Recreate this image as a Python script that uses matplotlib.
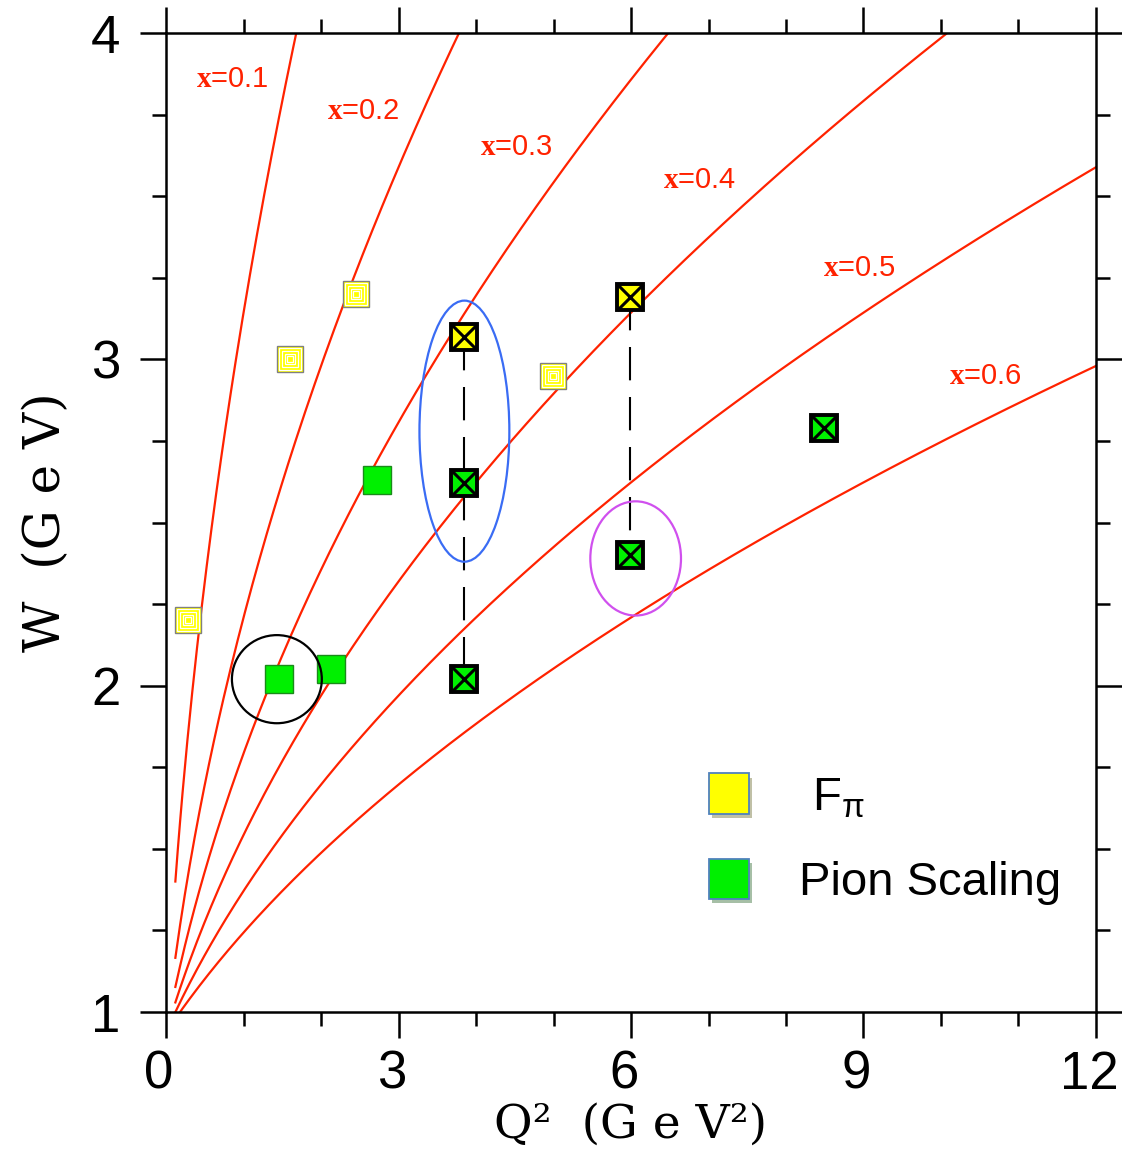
import numpy as np
import matplotlib
matplotlib.use("Agg")
import matplotlib.pyplot as plt
import matplotlib.patheffects as pe
import matplotlib.transforms as mtransforms
from matplotlib.patches import Ellipse
from matplotlib.lines import Line2D
from matplotlib.ticker import MultipleLocator

# W vs Q^2 coverage with lines of constant Bjorken x

plt.rcParams['mathtext.fontset'] = 'custom'
plt.rcParams['mathtext.rm'] = 'Liberation Sans'
plt.rcParams['mathtext.bf'] = 'Liberation Serif:bold'

M_P = 0.938  # proton mass (GeV)

x_bj = [0.1, 0.2, 0.3, 0.4, 0.5, 0.6]
x_lab_q2 = [0.85, 2.55, 4.52, 6.88, 8.95, 10.57]
x_lab_w = [3.86, 3.76, 3.65, 3.55, 3.28, 2.95]

# existing / planned points
fpi_q2 = [0.28, 1.60, 2.45, 4.99]
fpi_w = [2.20, 3.00, 3.20, 2.95]
fpi_new_q2 = [3.85, 5.99]
fpi_new_w = [3.07, 3.19]
scal_q2 = [1.46, 2.13, 2.72]
scal_w = [2.02, 2.05, 2.63]
scal_new_q2 = [3.85, 3.85, 5.99, 8.49]
scal_new_w = [2.62, 2.02, 2.40, 2.79]

# vertical links between the x-scan points
link_q2 = [3.85, 5.99]
link_w_top = [3.07, 3.19]
link_w_bot = [2.02, 2.40]

# highlight rings: (Q2, W, width, height, colour)
rings = [(1.43, 2.02, 1.16, 0.27, 'black'),
         (3.85, 2.78, 1.16, 0.80, '#3a6cf4'),
         (6.06, 2.39, 1.17, 0.35, '#d050ee')]

RED = '#ff2200'
YEL = '#ffff00'
GRN = '#00f000'

fig = plt.figure(figsize=(11.22, 11.59), dpi=100)
ax = fig.add_axes([0.148, 0.1268, 0.8288, 0.8447])

q2 = np.linspace(0.12, 12.5, 400)
for xb, lq, lw_ in zip(x_bj, x_lab_q2, x_lab_w):
    w = np.sqrt(M_P**2 + q2 * (1.0 / xb - 1.0))
    ax.plot(q2, w, color=RED, lw=1.6, zorder=2)
    ax.text(lq, lw_, r'$\mathbf{x}$=%.1f' % xb, color=RED, fontsize=21,
            family='Liberation Sans', ha='center', va='center')

for q, wt, wb in zip(link_q2, link_w_top, link_w_bot):
    ax.plot([q, q], [wt, wb], color='black', lw=1.5, ls=(0, (16, 8)), zorder=3)

for cq, cw, ew, eh, col in rings:
    ax.add_patch(Ellipse((cq, cw), ew, eh, fill=False, edgecolor=col, lw=1.6,
                         zorder=5))

# Fpi points: yellow squares with concentric white lines
ax.plot(fpi_q2, fpi_w, 's', ms=19, mfc=YEL, mec='#808080', mew=1.0,
        ls='none', zorder=4)
for f in (0.8, 0.6, 0.4, 0.2):
    ax.plot(fpi_q2, fpi_w, 's', ms=19 * f, mfc='none', mec='white', mew=0.9,
            ls='none', zorder=4)

ax.plot(scal_q2, scal_w, 's', ms=20, mfc=GRN, mec='#1a8a1a', mew=1.0,
        ls='none', zorder=4)

for xs, ys, fc in ((fpi_new_q2, fpi_new_w, YEL), (scal_new_q2, scal_new_w, GRN)):
    ax.plot(xs, ys, 's', ms=19, mfc=fc, mec='black', mew=2.8, ls='none', zorder=6)
    ax.plot(xs, ys, 'x', ms=19, mec='black', mew=2.2, ls='none', zorder=6)

ax.set_xlim(0, 12)
ax.set_ylim(1, 4)
ax.xaxis.set_major_locator(MultipleLocator(3))
ax.xaxis.set_minor_locator(MultipleLocator(1))
ax.yaxis.set_major_locator(MultipleLocator(1))
ax.yaxis.set_minor_locator(MultipleLocator(0.25))
ax.tick_params(which='both', direction='out', top=True, right=True, width=1.8,
               labelsize=38)
ax.tick_params(which='major', length=19)
ax.tick_params(which='minor', length=10)
ax.tick_params(axis='x', pad=8)
ax.tick_params(axis='y', pad=14)
shift = mtransforms.ScaledTranslation(-5 / 72, 0, fig.dpi_scale_trans)
for lab in ax.get_xticklabels():
    lab.set_family('Liberation Sans')
    lab.set_transform(lab.get_transform() + shift)
for lab in ax.get_yticklabels():
    lab.set_family('Liberation Sans')
for s in ax.spines.values():
    s.set_linewidth(1.8)

ax.set_xlabel('Q\u00b2  (G e V\u00b2)', family='DejaVu Serif', fontsize=34,
              labelpad=2)
ax.set_ylabel('W  (G e V)', family='DejaVu Serif', fontsize=36, labelpad=14)

shadow = [pe.withSimplePatchShadow(offset=(2, -3), alpha=0.35)]
handles = [Line2D([], [], ls='none', marker='s', ms=29, mfc=YEL, mec='#4f81bd',
                  mew=1.3, path_effects=shadow),
           Line2D([], [], ls='none', marker='s', ms=29, mfc=GRN, mec='#4f81bd',
                  mew=1.3, path_effects=shadow)]
leg = ax.legend(handles, [r' F$_{\mathrm{\pi}}$', 'Pion Scaling'],
                loc='upper left', bbox_to_anchor=(0.5801, 0.241),
                frameon=False, borderpad=0, borderaxespad=0, handlelength=1.0,
                handletextpad=0.97, labelspacing=0.87,
                prop={'family': 'Liberation Sans', 'size': 34})

fig.savefig('out.png', dpi=100)
